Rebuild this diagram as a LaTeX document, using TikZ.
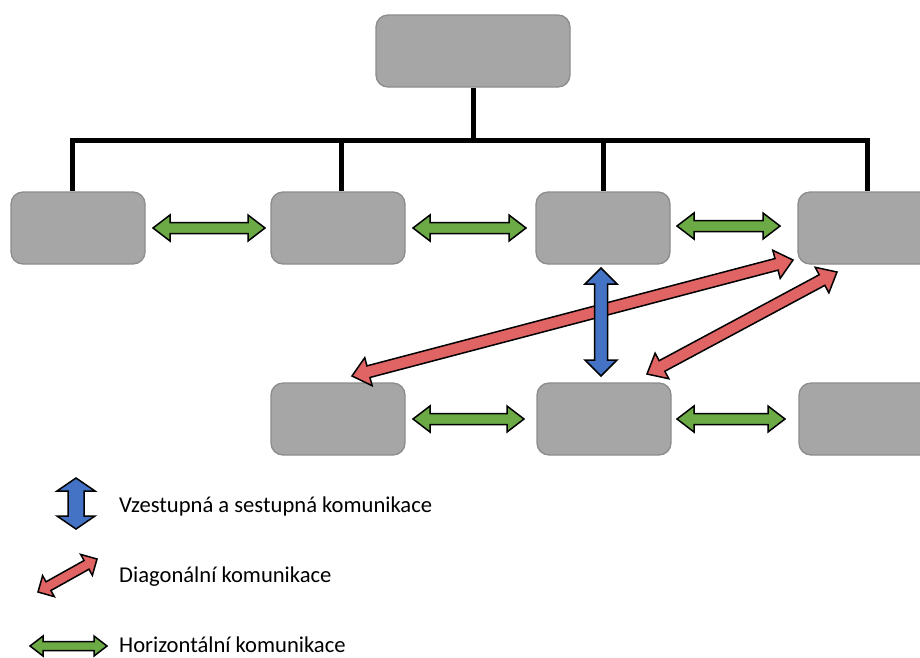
\documentclass[tikz,border=0pt]{standalone}
\usepackage{fontspec}
\setmainfont{Carlito}
\usetikzlibrary{calc}

\definecolor{boxfill}{HTML}{A6A6A6}
\definecolor{boxline}{HTML}{8C8C8C}
\definecolor{hgreen}{HTML}{6BAA45}
\definecolor{vblue}{HTML}{4472C4}
\definecolor{dred}{HTML}{E06464}

% fat double-headed arrow between two named points:
% #1 from, #2 to, #3 fill colour, #4 half shaft width, #5 half head width, #6 head length
\newcommand\fatarrow[6]{%
  \filldraw[fill=#3, draw=black, line width=1.5pt, line join=miter]
    let \p1=($(#2)-(#1)$), \n1={atan2(\y1,\x1)}, \n2={veclen(\x1,\y1)} in
    (#1) -- ($(#1)+(\n1:#6)+(\n1+90:#5)$) -- ($(#1)+(\n1:#6)+(\n1+90:#4)$)
    -- ($(#1)+(\n1:\n2-#6)+(\n1+90:#4)$) -- ($(#1)+(\n1:\n2-#6)+(\n1+90:#5)$)
    -- (#2) -- ($(#1)+(\n1:\n2-#6)+(\n1-90:#5)$) -- ($(#1)+(\n1:\n2-#6)+(\n1-90:#4)$)
    -- ($(#1)+(\n1:#6)+(\n1-90:#4)$) -- ($(#1)+(\n1:#6)+(\n1-90:#5)$) -- cycle;}

\tikzset{
  unit/.style={draw=boxline, fill=boxfill, line width=1.3pt, rounded corners=12pt,
    minimum width=134pt, minimum height=72pt, inner sep=0pt},
  bus/.style={line width=5pt, line cap=rect},
  legendtext/.style={anchor=base west, inner sep=0pt, font=\fontsize{22.6}{27}\selectfont},
}

\begin{document}
\begin{tikzpicture}[x=1pt, y=-1pt]
\useasboundingbox (0,0) rectangle (920,657);
\clip (0,0) rectangle (920,657);

% organisation units
\node[unit, minimum width=194pt] (top) at (473,51) {};
\node[unit] (b1) at (78,228) {};
\node[unit] (b2) at (338,228) {};
\node[unit] (b3) at (603,228) {};
\node[unit] (b4) at (865,228) {};
\node[unit] (c1) at (338,419) {};
\node[unit] (c2) at (604,419) {};
\node[unit] (c3) at (866,419) {};

% hierarchy lines
\coordinate (busL) at (72.5,140.5);
\coordinate (busM2) at (341,140.5);
\coordinate (busM3) at (603,140.5);
\coordinate (busR) at (867,140.5);
\draw[bus] (busL) -- (busR);
\draw[bus, line cap=butt] (top.south) -- (top.south |- busL);
\draw[bus, line cap=butt] (busL) -- (busL |- b1.north);
\draw[bus, line cap=butt] (busM2) -- (busM2 |- b2.north);
\draw[bus, line cap=butt] (busM3) -- (busM3 |- b3.north);
\draw[bus, line cap=butt] (busR) -- (busR |- b4.north);

% horizontal communication
\coordinate (h1a) at (153,228); \coordinate (h1b) at (265,228);
\coordinate (h2a) at (413,228); \coordinate (h2b) at (526,228);
\coordinate (h3a) at (677,226); \coordinate (h3b) at (780,226);
\coordinate (h4a) at (413,419); \coordinate (h4b) at (524,419);
\coordinate (h5a) at (677,419); \coordinate (h5b) at (785,419);
\fatarrow{h1a}{h1b}{hgreen}{5.5pt}{13pt}{17pt}
\fatarrow{h2a}{h2b}{hgreen}{5.5pt}{13pt}{17pt}
\fatarrow{h3a}{h3b}{hgreen}{5.5pt}{13pt}{17pt}
\fatarrow{h4a}{h4b}{hgreen}{5.5pt}{13pt}{17pt}
\fatarrow{h5a}{h5b}{hgreen}{5.5pt}{13pt}{17pt}

% diagonal communication
\coordinate (d1a) at (352,376); \coordinate (d1b) at (793,260);
\coordinate (d2a) at (647,374); \coordinate (d2b) at (837,272);
\fatarrow{d1a}{d1b}{dred}{6pt}{14.5pt}{17pt}
\fatarrow{d2a}{d2b}{dred}{6pt}{14.5pt}{17pt}

% upward and downward communication
\coordinate (va) at (601,268); \coordinate (vb) at (601,376);
\fatarrow{va}{vb}{vblue}{6.5pt}{16pt}{16pt}

% legend
\coordinate (lva) at (76,478); \coordinate (lvb) at (76,529);
\fatarrow{lva}{lvb}{vblue}{8pt}{19pt}{13pt}
\node[legendtext] (lv) at (119,512) {Vzestupná a sestupná komunikace};

\coordinate (lda) at (38,592); \coordinate (ldb) at (97,559);
\fatarrow{lda}{ldb}{dred}{5pt}{12pt}{12pt}
\node[legendtext] (ld) at (119,582) {Diagonální komunikace};

\coordinate (lha) at (30,646); \coordinate (lhb) at (107,646);
\fatarrow{lha}{lhb}{hgreen}{4.5pt}{10pt}{13pt}
\node[legendtext] (lh) at (119,652) {Horizontální komunikace};
\end{tikzpicture}
\end{document}
